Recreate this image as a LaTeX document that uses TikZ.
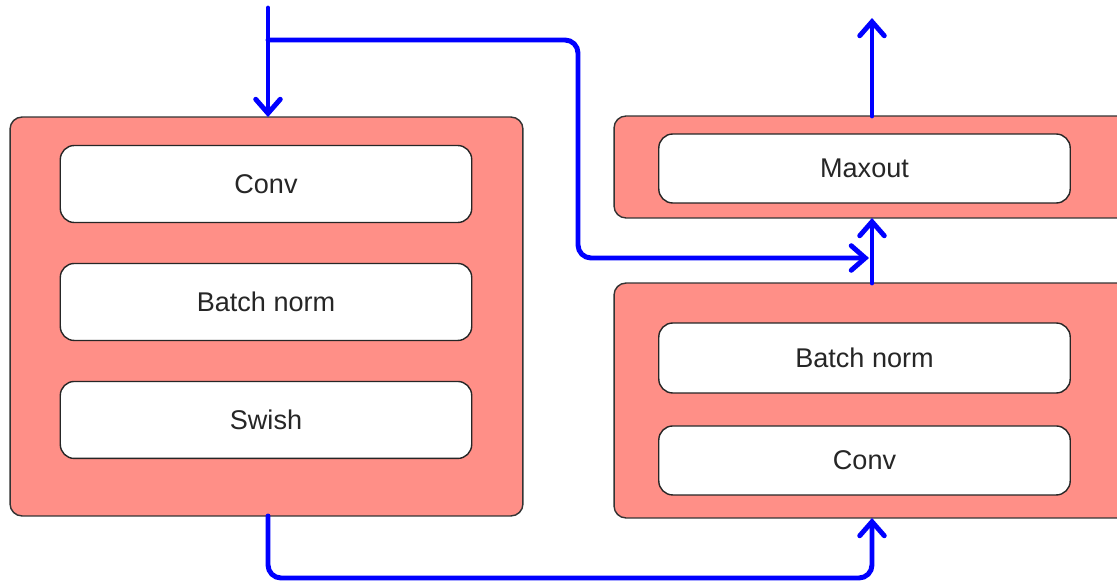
\documentclass[tikz,border=0pt]{standalone}
\usepackage{fontspec}
\setmainfont{Liberation Sans}
\usetikzlibrary{arrows.meta, positioning}

\definecolor{blockred}{RGB}{255,143,135}
\definecolor{flowblue}{RGB}{0,0,255}

\begin{document}
\begin{tikzpicture}[
    x=0.02cm, y=-0.02cm,
    node distance=0.82cm,
    block/.style={rectangle, draw=black!80, fill=blockred, line width=0.8pt,
        rounded corners=0.24cm, inner sep=0pt, outer sep=0pt},
    layer/.style={rectangle, draw=black!85, fill=white, line width=0.8pt,
        rounded corners=0.28cm, minimum width=8.23cm, inner sep=0pt, outer sep=0pt,
        font=\fontsize{15.4}{18}\selectfont, text=black!85},
    flow/.style={-{Straight Barb[length=8pt, width=14pt, line cap=round]},
        line width=2.8pt, draw=flowblue, line cap=round, rounded corners=0.26cm},
]
\useasboundingbox (0,0) rectangle (1117,581);

% ---- left block ----
\node (left) [block, minimum width=10.26cm, minimum height=7.98cm] at (266.5,316.5) {};
\node (conv1)  [layer, minimum height=1.54cm] at (266,184) {Conv};
\node (bn1)    [layer, minimum height=1.54cm, below=of conv1] {Batch norm};
\node (swish)  [layer, minimum height=1.54cm, below=of bn1] {Swish};

% ---- right blocks ----
\node (top) [block, minimum width=10.32cm, minimum height=2.04cm] at (872,167) {};
\node (maxout) [layer, minimum height=1.38cm] at (864.5,168.5) {Maxout};

\node (bottom) [block, minimum width=10.32cm, minimum height=4.7cm] at (872,400.5) {};
\node (bn2)   [layer, minimum height=1.4cm] at (864.5,358) {Batch norm};
\node (conv2) [layer, minimum height=1.38cm, below=0.66cm of bn2] {Conv};

% ---- connectors ----
\coordinate (in)  at (268,8);
\coordinate (out) at (872,18);
\coordinate (split) at (268,40);

\draw[flow] (in) -- (in |- left.north);
\draw[flow] (split) -- (578,40) -- (578,258) -- (869,258);
\draw[flow] (bottom.north) -- (top.south);
\draw[flow] (top.north) -- (out);
\draw[flow] (left.south -| in) -- (268,578) -- (872,578) -- (bottom.south);

\end{tikzpicture}
\end{document}
